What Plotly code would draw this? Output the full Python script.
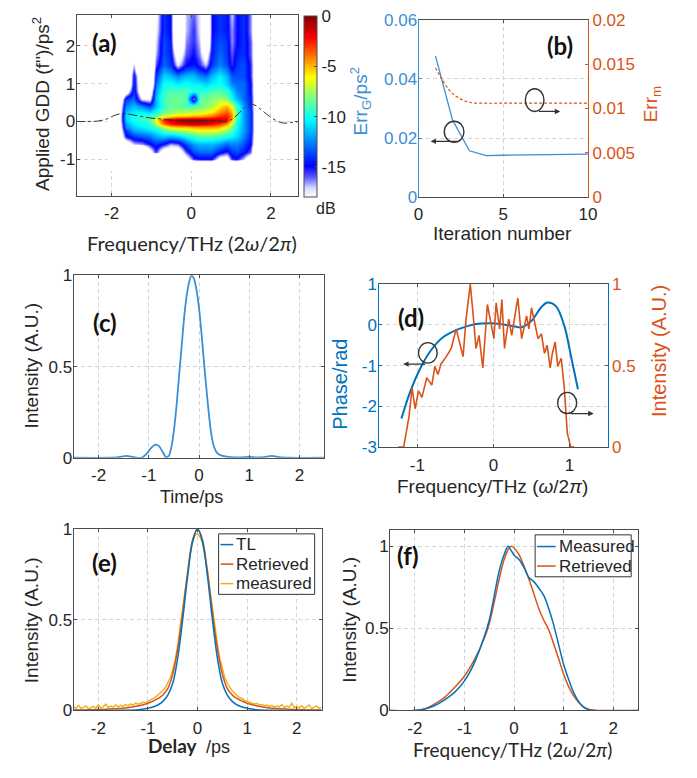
import plotly.graph_objects as go

W, H = 697, 778


def px(x):
    return x / W


def py(y):
    return 1 - y / H


BLUE = "#0072BD"
ORANGE = "#D95319"
YELLOW = "#EDB120"
FRAME = "#4d4d4d"
GRID = "#d4d4d4"
TXT = "#262626"
SANS = "Liberation Sans, Arial, sans-serif"
CAL = "Lato, Open Sans, sans-serif"

# ---------------- (a) d-scan trace (dB) ----------------
scan_freq = [-2.0, -1.8, -1.65, -1.45, -1.25, -1.05, -0.9, -0.7, -0.52, -0.35, -0.15, 0.05,
             0.22, 0.35, 0.5, 0.7, 0.88, 1.02, 1.15, 1.32, 1.48, 1.62, 1.8]
scan_gdd = [-1.2, -1.0, -0.8, -0.6, -0.4, -0.25, -0.15, -0.05, 0.05, 0.15,
            0.25, 0.4, 0.6, 0.8, 1.0, 1.2, 1.5, 1.8, 2.1, 2.4, 2.8]
E = -25
scan_db = [
    [E] * 23,
    [E, E, E, E, E, E, E, E, E, E, -19, -15.5, -15, -15, -15, -18.5, -19, -15.5, -15, -17, -20, E, E],
    [E, E, E, E, E, -19, -15.5, -19.5, -20, -20, -16, -13.5, -13, -13, -13, -14.5, -15.5, -14, -13.5, -14.5, -16, E, E],
    [E, E, -20, -17, -16.5, -15, -14, -15, -16.5, -16, -13.5, -12, -11.5, -11.5, -11.5, -12, -13, -12.5, -12.5, -13.5, -15, -20, E],
    [E, -20, -15.5, -14, -13.5, -13, -12, -11.5, -12, -11.5, -10.5, -9.5, -9, -9, -9, -9.5, -10, -10.5, -11, -12.5, -14.5, -20, E],
    [E, -19.5, -14, -12, -11.5, -11, -10.5, -9, -8.5, -8, -7.5, -7, -6.5, -6.5, -6.5, -7, -8, -9, -10.5, -12, -14, -20, E],
    [E, -19, -12.5, -11, -10.5, -10, -9, -7, -5.5, -5, -5, -4.5, -4.5, -4.5, -4.5, -5, -6.5, -8, -10, -12, -14, -20, E],
    [E, -19, -12, -10.5, -10, -9.5, -7.5, -4, -2.5, -2, -1.5, -1.3, -1.5, -1.8, -2.2, -3, -4.5, -7, -10, -12, -14, -20, E],
    [E, -18.5, -11, -10, -9.5, -9, -6.5, -2.5, -1.2, -0.6, -0.3, -0.2, -0.3, -0.5, -0.8, -1.2, -2, -5, -9.5, -12, -14, -20, E],
    [E, -18.5, -11, -10, -9.5, -9.5, -8.5, -7, -6, -5.5, -5.5, -5, -5, -4.5, -4, -3, -2.5, -4, -9, -12, -14, -20, E],
    [E, -19, -11.5, -10.5, -10.5, -11, -10, -8.5, -8, -7.5, -7.5, -7, -7, -6.5, -6, -4.5, -3.5, -5, -9, -12, -14, -20, E],
    [E, -20, -12.5, -11.5, -12.5, -14, -11.5, -9.5, -8.5, -8.5, -9, -9, -8.5, -8, -7.5, -6, -5, -6.5, -9.5, -12, -14.5, -20, E],
    [E, -21, -14, -13, -17.5, -18, -11.5, -9, -8.5, -8.5, -8.5, -17, -8.5, -8.5, -8, -7.5, -8, -10, -11.5, -13, -14.5, -20, E],
    [E, E, -20, -14, -20, -21, -12, -9.5, -9, -9, -9, -9.5, -9.5, -9.5, -9, -9, -9.5, -11, -12.5, -13, -15, -20, E],
    [E, E, E, -14, -21, E, -13, -10, -10, -10.5, -10, -10.5, -10.5, -11, -10.5, -10, -11, -12.5, -13, -13, -15, -20, E],
    [E, E, E, -14.5, -21, E, -14, -11, -11.5, -12.5, -11.5, -11.5, -12.5, -13, -11.5, -10.5, -11.5, -13.5, -13.5, -13.5, -15.5, -20, E],
    [E, E, E, -17, E, E, -16, -13, -14, -17.5, -15, -14.5, -15.5, -17, -14, -12.5, -13.5, -15.5, -14, -13.5, -15.5, -20, E],
    [E, E, E, E, E, E, -17, -13.5, -14.5, -20, -16, -15, -16.5, -19.5, -14.5, -13, -14, -16, -14.5, -14, -16, -20, E],
    [E, E, E, E, E, E, -17.5, -13.5, -14.5, E, -16.5, -15.5, -17, E, -14.5, -13.5, -14, -16.5, -15, -14, -16, -20, E],
    [E, E, E, E, E, E, -18, -14, -15, E, -17, -15.5, -17.5, E, -15, -14, -14.5, -16.5, -15, -14, -16.5, -21, E],
    [E, E, E, E, E, E, -18.5, -14, -15, E, -17, -16, -17.5, E, -15, -14, -14.5, -17, -15, -14, -16.5, -21, E],
]
db_ticks = [0, -5, -10, -15]

# applied GDD curve (dash-dot)
applied_freq = [-2.9, -2.6, -2.35, -2.13, -1.95, -1.72, -1.5, -1.25, -0.98, -0.7, -0.49,
                -0.2, 0.2, 0.6, 0.9, 1.05, 1.2, 1.35, 1.47, 1.6, 1.72, 1.85, 1.97, 2.12, 2.29, 2.5, 2.7]
applied_gdd = [0.0, 0.0, 0.01, 0.06, 0.15, 0.21, 0.18, 0.13, 0.086, 0.06, 0.043,
               0.02, 0.0, 0.0, 0.0, 0.08, 0.22, 0.38, 0.46, 0.43, 0.34, 0.23, 0.13, 0.03, -0.04, -0.03, 0.0]

# ---------------- (b) convergence ----------------
iteration = [1, 2, 3, 4, 5, 6, 7, 8, 9, 10]
err_g = [0.0478, 0.0262, 0.0157, 0.0141, 0.0142, 0.0143, 0.0144, 0.0144, 0.0145, 0.0146]
err_m = [0.0146, 0.0117, 0.0107, 0.0106, 0.0106, 0.0106, 0.0106, 0.0106, 0.0106, 0.0106]

# ---------------- (c) retrieved temporal intensity ----------------
time_ps = [-2.5, -1.8, -1.6, -1.45, -1.3, -1.15, -1.05, -0.95, -0.87, -0.8, -0.72, -0.66,
           -0.6, -0.55, -0.5, -0.45, -0.4, -0.35, -0.3, -0.25, -0.2, -0.15, -0.1, -0.05,
           0.0, 0.05, 0.1, 0.15, 0.2, 0.25, 0.3, 0.35, 0.45, 0.6, 0.8, 1.0, 1.15, 1.3,
           1.45, 1.6, 1.8, 2.5]
time_int = [0.0, 0.0, 0.003, 0.01, 0.003, 0.0, 0.02, 0.055, 0.072, 0.065, 0.03, 0.003,
            0.01, 0.06, 0.15, 0.28, 0.44, 0.6, 0.76, 0.88, 0.96, 1.0, 0.98, 0.92,
            0.82, 0.68, 0.52, 0.37, 0.23, 0.12, 0.06, 0.03, 0.012, 0.005, 0.002, 0.005, 0.002, 0.004,
            0.01, 0.003, 0.0, 0.0]

# ---------------- (d) spectral phase and spectrum ----------------
phase_freq = [-1.21, -1.09, -0.96, -0.835, -0.66, -0.45, -0.23, -0.02, 0.2, 0.37,
              0.5, 0.63, 0.71, 0.82, 0.93, 1.015, 1.11]
phase_rad = [-2.30, -1.62, -1.06, -0.66, -0.30, -0.10, 0.02, 0.04, -0.01, -0.06,
             0.10, 0.44, 0.55, 0.46, -0.02, -0.74, -1.58]
spec_freq = [-1.25, -1.18, -1.11, -1.07, -1.03, -0.985, -0.94, -0.877, -0.81, -0.77,
             -0.73, -0.69, -0.62, -0.555, -0.49, -0.445, -0.40, -0.36, -0.305, -0.27,
             -0.23, -0.19, -0.14, -0.08, -0.04, 0.005, 0.035, 0.08, 0.11, 0.145,
             0.2, 0.24, 0.32, 0.37, 0.435, 0.465, 0.5, 0.54, 0.585, 0.63,
             0.67, 0.705, 0.745, 0.77, 0.81, 0.845, 0.89, 0.93, 0.97, 1.015, 1.06]
spec_int = [0.0, 0.0, 0.186, 0.365, 0.235, 0.345, 0.305, 0.425, 0.38, 0.495,
            0.445, 0.51, 0.555, 0.605, 0.725, 0.635, 0.555, 0.785, 1.0, 0.825,
            0.605, 0.685, 0.485, 0.875, 0.785, 0.665, 0.885, 0.725, 0.905, 0.605,
            0.785, 0.685, 0.915, 0.665, 0.805, 0.725, 0.855, 0.765, 0.665, 0.695,
            0.575, 0.625, 0.485, 0.565, 0.645, 0.495, 0.545, 0.365, 0.085, 0.0, 0.0]

# ---------------- (e) autocorrelation ----------------
ac_delay = [-2.5, -2.0, -1.5, -1.2, -1.0, -0.8, -0.7, -0.6, -0.5, -0.4, -0.3, -0.2, -0.1, 0.0,
            0.1, 0.2, 0.3, 0.4, 0.5, 0.6, 0.7, 0.8, 1.0, 1.2, 1.5, 2.0, 2.5]
ac_tl = [0.0, 0.0, 0.001, 0.004, 0.012, 0.03, 0.05, 0.085, 0.15, 0.29, 0.5, 0.74, 0.93, 1.0,
         0.93, 0.74, 0.5, 0.29, 0.15, 0.085, 0.05, 0.03, 0.012, 0.004, 0.001, 0.0, 0.0]
ac_retrieved = [0.002, 0.005, 0.012, 0.025, 0.04, 0.065, 0.085, 0.12, 0.2, 0.34, 0.54, 0.76, 0.94, 1.0,
                0.94, 0.76, 0.54, 0.34, 0.2, 0.12, 0.085, 0.065, 0.04, 0.025, 0.012, 0.005, 0.002]
ac_meas_delay = [round(-2.5 + 0.05 * i, 2) for i in range(101)]
ac_measured = [0.020, 0.012, 0.028, 0.010, 0.018, 0.025, 0.008, 0.015, 0.022, 0.012,
               0.030, 0.014, 0.020, 0.035, 0.016, 0.024, 0.018, 0.030, 0.020, 0.028,
               0.022, 0.032, 0.025, 0.036, 0.028, 0.040, 0.034, 0.038, 0.045, 0.042,
               0.052, 0.058, 0.065, 0.072, 0.085, 0.095, 0.110, 0.125, 0.150, 0.180,
               0.225, 0.280, 0.360, 0.450, 0.560, 0.660, 0.770, 0.860, 0.930, 0.965,
               0.975, 0.955, 0.925, 0.860, 0.775, 0.665, 0.565, 0.455, 0.365, 0.285,
               0.225, 0.180, 0.148, 0.125, 0.108, 0.095, 0.082, 0.070, 0.066, 0.055,
               0.050, 0.044, 0.040, 0.036, 0.038, 0.030, 0.033, 0.026, 0.030, 0.022,
               0.028, 0.018, 0.026, 0.020, 0.032, 0.015, 0.024, 0.018, 0.040, 0.016,
               0.022, 0.014, 0.026, 0.012, 0.020, 0.030, 0.010, 0.018, 0.025, 0.012, 0.016]
ac_names = ["TL", "Retrieved", "measured"]

# ---------------- (f) SHG spectrum ----------------
shg_meas_f = [-2.5, -2.0, -1.8, -1.6, -1.4, -1.2, -1.0, -0.8, -0.6, -0.5, -0.4, -0.3, -0.2,
              -0.12, -0.05, 0.02, 0.1, 0.2, 0.3, 0.4, 0.5, 0.6, 0.7, 0.8, 0.9, 1.0, 1.1,
              1.2, 1.3, 1.4, 1.5, 1.6, 2.5]
shg_meas = [0.0, 0.0, 0.008, 0.03, 0.065, 0.11, 0.18, 0.29, 0.45, 0.55, 0.70, 0.85, 0.95,
            1.0, 0.97, 0.94, 0.92, 0.87, 0.81, 0.785, 0.745, 0.70, 0.62, 0.52, 0.40, 0.28, 0.19,
            0.11, 0.055, 0.02, 0.005, 0.0, 0.0]
shg_ret_f = [-2.5, -2.0, -1.8, -1.6, -1.4, -1.2, -1.0, -0.8, -0.6, -0.5, -0.4, -0.3, -0.2,
             -0.1, -0.05, 0.0, 0.1, 0.2, 0.3, 0.4, 0.5, 0.6, 0.7, 0.8, 0.9, 1.0, 1.1, 1.2,
             1.3, 1.4, 1.5, 1.6, 1.75, 2.5]
shg_ret = [0.0, 0.0, 0.01, 0.04, 0.08, 0.14, 0.21, 0.31, 0.44, 0.53, 0.66, 0.80, 0.92,
           0.99, 1.0, 0.99, 0.95, 0.88, 0.80, 0.71, 0.62, 0.55, 0.49, 0.405, 0.315, 0.22, 0.145, 0.09,
           0.05, 0.022, 0.008, 0.002, 0.0, 0.0]
shg_names = ["Measured", "Retrieved"]

db_scale = [
    [0.0, "rgb(255,255,255)"],
    [0.05, "rgb(215,215,255)"],
    [0.11, "rgb(90,90,255)"],
    [0.17, "rgb(0,0,255)"],
    [0.30, "rgb(0,128,255)"],
    [0.43, "rgb(0,255,255)"],
    [0.55, "rgb(128,255,128)"],
    [0.66, "rgb(255,255,0)"],
    [0.77, "rgb(255,128,0)"],
    [0.88, "rgb(255,0,0)"],
    [1.0, "rgb(128,0,0)"],
]

fig = go.Figure()

fig.add_trace(go.Heatmap(
    x=scan_freq, y=scan_gdd, z=scan_db, zmin=-18, zmax=0, zsmooth="best",
    colorscale=db_scale, xaxis="x", yaxis="y", hoverinfo="skip",
    colorbar=dict(x=px(305), xanchor="left", y=py(100), yanchor="middle",
                  len=186 / H, lenmode="fraction", thickness=13, thicknessmode="pixels",
                  outlinecolor=FRAME, outlinewidth=1, tickvals=db_ticks,
                  ticktext=[str(v) for v in db_ticks], ticks="inside", ticklen=3,
                  tickcolor=FRAME, tickfont=dict(size=17, color=TXT), xpad=0, ypad=0),
))
fig.add_trace(go.Scatter(x=applied_freq, y=applied_gdd, mode="lines", xaxis="x", yaxis="y",
                         line=dict(color="#333333", width=1, dash="dashdot", shape="spline")))

fig.add_trace(go.Scatter(x=iteration, y=err_g, mode="lines", xaxis="x2", yaxis="y2",
                         line=dict(color="#3b8fd4", width=1.3)))
fig.add_trace(go.Scatter(x=iteration, y=err_m, mode="lines", xaxis="x2", yaxis="y3",
                         line=dict(color=ORANGE, width=1.2, dash="3px,2px", shape="spline")))

fig.add_trace(go.Scatter(x=time_ps, y=time_int, mode="lines", xaxis="x3", yaxis="y4",
                         line=dict(color="#3b8fd4", width=1.8, shape="spline", smoothing=0.6)))

fig.add_trace(go.Scatter(x=spec_freq, y=spec_int, mode="lines", xaxis="x4", yaxis="y6",
                         line=dict(color=ORANGE, width=1.6)))
fig.add_trace(go.Scatter(x=phase_freq, y=phase_rad, mode="lines", xaxis="x4", yaxis="y5",
                         line=dict(color=BLUE, width=2, shape="spline")))

ac_colors = [BLUE, ORANGE, YELLOW]
fig.add_trace(go.Scatter(x=ac_meas_delay, y=ac_measured, mode="lines", xaxis="x5", yaxis="y7",
                         line=dict(color=ac_colors[2], width=1.5)))
fig.add_trace(go.Scatter(x=ac_delay, y=ac_retrieved, mode="lines", xaxis="x5", yaxis="y7",
                         line=dict(color=ac_colors[1], width=1.5, shape="spline")))
fig.add_trace(go.Scatter(x=ac_delay, y=ac_tl, mode="lines", xaxis="x5", yaxis="y7",
                         line=dict(color=ac_colors[0], width=1.5, shape="spline")))

shg_colors = [BLUE, ORANGE]
fig.add_trace(go.Scatter(x=shg_ret_f, y=shg_ret, mode="lines", xaxis="x6", yaxis="y8",
                         line=dict(color=shg_colors[1], width=1.5, shape="spline")))
fig.add_trace(go.Scatter(x=shg_meas_f, y=shg_meas, mode="lines", xaxis="x6", yaxis="y8",
                         line=dict(color=shg_colors[0], width=1.5, shape="spline")))


def axis(domain, rng, tickvals, ticktext=None, anchor=None, grid=True, color=FRAME,
         tcolor=TXT, mirror="ticks", side=None, overlaying=None, standoff=0):
    d = dict(domain=domain, range=rng, tickvals=tickvals,
             ticktext=ticktext if ticktext else [str(v) for v in tickvals],
             showline=True, linecolor=color, linewidth=1, mirror=mirror,
             ticks="inside", ticklen=3, tickcolor=color, zeroline=False,
             showgrid=grid, gridcolor=GRID, griddash="4px,3px", gridwidth=1,
             ticklabelstandoff=standoff,
             tickfont=dict(size=17, color=tcolor, family=SANS))
    if anchor:
        d["anchor"] = anchor
    if side:
        d["side"] = side
    if overlaying:
        d["overlaying"] = overlaying
    return d


lay = dict(width=W, height=H, margin=dict(l=0, r=0, t=0, b=0),
           paper_bgcolor="white", plot_bgcolor="white", showlegend=False,
           font=dict(family=SANS, color=TXT, size=17))

# (a)
lay["xaxis"] = axis([px(73), px(299)], [-2.88, 2.68], [-2, 0, 2], anchor="y", standoff=1)
lay["yaxis"] = axis([py(192), py(6)], [-1.98, 2.82], [-1, 0, 1, 2], anchor="x", standoff=-3)
# (b)
lay["xaxis2"] = axis([px(422), px(595)], [0, 10], [0, 5, 10], anchor="y2", standoff=1)
lay["yaxis2"] = axis([py(193), py(11)], [0, 0.06], [0, 0.02, 0.04, 0.06],
                     ["0", "0.02", "0.04", "0.06"], anchor="x2", color="#3b8fd4",
                     tcolor="#3b8fd4", mirror=False, standoff=-3)
lay["yaxis3"] = axis([py(193), py(11)], [0, 0.02], [0, 0.005, 0.01, 0.015, 0.02],
                     ["0", "0.005", "0.01", "0.015", "0.02"], anchor="x2", grid=False,
                     color=ORANGE, tcolor=ORANGE, mirror=False, side="right", overlaying="y2")
# (c)
lay["xaxis3"] = axis([px(70), px(326)], [-2.5, 2.5], [-2, -1, 0, 1, 2], anchor="y4", standoff=2)
lay["yaxis4"] = axis([py(460), py(273)], [0, 1], [0, 0.5, 1], ["0", "0.5", "1"], anchor="x3",
                     standoff=-3)
# (d)
lay["xaxis4"] = axis([px(382), px(615)], [-1.5, 1.5], [-1, 0, 1], anchor="y5", standoff=3)
lay["yaxis5"] = axis([py(449), py(282)], [-3, 1], [-3, -2, -1, 0, 1], anchor="x4",
                     color=BLUE, tcolor=BLUE, mirror=False, standoff=-2)
lay["yaxis6"] = axis([py(449), py(282)], [0, 1], [0, 0.5, 1], ["0", "0.5", "1"], anchor="x4",
                     grid=False, color=BLUE, tcolor=ORANGE, mirror=False, side="right",
                     overlaying="y5")
# (e)
lay["xaxis5"] = axis([px(70), px(323)], [-2.5, 2.5], [-2, -1, 0, 1, 2], anchor="y7", standoff=2)
lay["yaxis7"] = axis([py(719), py(533)], [0, 1], [0, 0.5, 1], ["0", "0.5", "1"], anchor="x5",
                     standoff=-3)
# (f)
lay["xaxis6"] = axis([px(393), px(646)], [-2.5, 2.5], [-2, -1, 0, 1, 2], anchor="y8", standoff=2)
lay["yaxis8"] = axis([py(719), py(534)], [0, 1.1], [0, 0.5, 1], ["0", "0.5", "1"], anchor="x6",
                     standoff=-3)

fig.update_layout(**lay)

ann = []


def text(s, x, y, size=19, color=TXT, family=SANS, angle=0, xanchor="center"):
    ann.append(dict(text=s, x=px(x), y=py(y), xref="paper", yref="paper", showarrow=False,
                    textangle=angle, xanchor=xanchor, yanchor="middle",
                    font=dict(size=size, color=color, family=family)))


# panel letters
for lab, x, y in [("(a)", 102, 34), ("(b)", 566, 37), ("(c)", 102, 321),
                  ("(d)", 414, 316), ("(e)", 102, 567), ("(f)", 411, 560)]:
    text("<b>" + lab + "</b>", x, y, size=24, color="#111111", family=CAL)

# axis titles
text("Applied GDD (f'')/ps<sup>2</sup>", 36, 97, size=19, angle=-90)
text("Frequency/THz (2<i>ω</i>/2<i>π</i>)", 191, 240, size=20, family=CAL)
text("dB", 328, 204, size=16)
text("Err<sub>G</sub>/ps<sup>2</sup>", 363, 95, size=19, color="#3b8fd4", angle=-90)
text("Err<sub>m</sub>", 660, 98, size=19, color=ORANGE, angle=-90)
text("Iteration number", 508, 230, size=19)
text("Intensity (A.U.)", 27, 365, size=19, angle=-90)
text("Time/ps", 190, 500, size=18)
text("Phase/rad", 341, 385, size=20, color=BLUE, angle=-90)
text("Intensity (A.U.)", 668, 351, size=20, color=ORANGE, angle=-90)
text("Frequency/THz (<i>ω</i>/2<i>π</i>)", 498, 489, size=19)
text("Intensity (A.U.)", 27, 626, size=19, angle=-90)
text("<b>Delay</b>", 171, 755, size=19, family=CAL)
text("/ps", 217, 756, size=18)
text("Intensity (A.U.)", 352, 626, size=19, angle=-90)
text("Frequency/THz (2<i>ω</i>/2<i>π</i>)", 518, 759, size=19, family=CAL)

# circled-arrow markers showing which axis each curve uses
shapes = []
for xr, yr, x0, x1, y0, y1 in [("x2", "y2", 1.52, 2.68, 0.0186, 0.0257),
                               ("x2", "y2", 6.3, 7.4, 0.029, 0.0367),
                               ("x4", "y5", -0.985, -0.74, -0.94, -0.437),
                               ("x4", "y5", 0.843, 1.093, -2.178, -1.659)]:
    shapes.append(dict(type="circle", xref=xr, yref=yr, x0=x0, x1=x1, y0=y0, y1=y1,
                       line=dict(color="#333333", width=1.4)))
for xr, yr, xh, yh, xt, yt in [("x2", "y2", 0.71, 0.0189, 2.49, 0.0189),
                               ("x2", "y2", 8.36, 0.029, 7.01, 0.029),
                               ("x4", "y5", -1.187, -0.964, -0.877, -0.964),
                               ("x4", "y5", 1.316, -2.178, 0.994, -2.178)]:
    ann.append(dict(x=xh, y=yh, ax=xt, ay=yt, xref=xr, yref=yr, axref=xr, ayref=yr,
                    showarrow=True, arrowhead=2, arrowsize=0.9, arrowwidth=1.2,
                    arrowcolor="#333333", text=""))


# legend boxes for (e) and (f)
def legend_box(x0, y0, x1, y1, rows, names, colors, line_x0, line_x1):
    shapes.append(dict(type="rect", xref="paper", yref="paper", x0=px(x0), x1=px(x1),
                       y0=py(y1), y1=py(y0), line=dict(color="#333333", width=1),
                       fillcolor="white", layer="above"))
    for yy, nm, c in zip(rows, names, colors):
        shapes.append(dict(type="line", xref="paper", yref="paper", x0=px(line_x0),
                           x1=px(line_x1), y0=py(yy), y1=py(yy),
                           line=dict(color=c, width=1.5), layer="above"))
        text(nm, line_x1 + 1, yy, size=17, xanchor="left")


legend_box(218, 538, 316, 600, [549, 569, 589], ac_names, ac_colors, 220, 233)
legend_box(541, 539, 639, 582, [551, 571], shg_names, shg_colors, 543, 562)

fig.update_layout(annotations=ann, shapes=shapes)
fig.write_html("out.html")
